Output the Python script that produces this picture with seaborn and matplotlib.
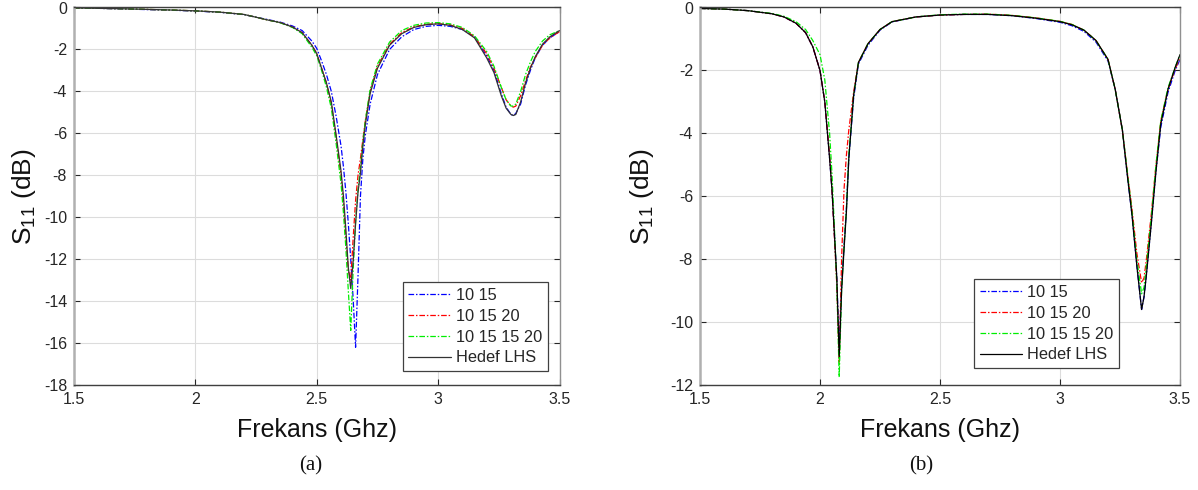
import matplotlib
matplotlib.use("Agg")
import matplotlib.pyplot as plt
import seaborn as sns

# ---------------- data: panel (a) ----------------
freq_a = [1.5, 1.6, 1.7, 1.8, 1.9, 2.0, 2.1, 2.2, 2.3, 2.35, 2.4, 2.44, 2.48, 2.5, 2.52,
          2.54, 2.56, 2.58, 2.6, 2.61, 2.62, 2.63, 2.64, 2.65, 2.66, 2.67, 2.68, 2.69, 2.7,
          2.72, 2.75, 2.8, 2.85, 2.9, 2.95, 3.0, 3.05, 3.1, 3.15, 3.2, 3.23, 3.26, 3.28,
          3.3, 3.31, 3.32, 3.34, 3.36, 3.38, 3.4, 3.43, 3.46, 3.5]
a_10_15 = [-0.02, -0.04, -0.07, -0.10, -0.13, -0.17, -0.23, -0.34, -0.58, -0.70, -0.88, -1.10,
           -1.60, -1.95, -2.55, -3.2, -4.0, -5.2, -6.6, -7.6, -8.8, -10.3, -12.0, -13.9, -16.2,
           -12.8, -9.0, -7.2, -6.1, -4.6, -3.2, -2.0, -1.4, -1.05, -0.9, -0.85, -0.9, -1.05,
           -1.4, -2.3, -3.0, -4.1, -4.75, -5.1, -5.15, -5.05, -4.6, -3.7, -3.0, -2.4, -1.8,
           -1.45, -1.15]
a_10_15_20 = [-0.02, -0.04, -0.06, -0.09, -0.12, -0.16, -0.22, -0.33, -0.6, -0.72, -0.93, -1.2,
              -1.8, -2.2, -2.9, -3.6, -4.6, -6.2, -8.0, -9.3, -11.0, -12.5, -13.0, -11.0, -9.2,
              -8.0, -7.2, -6.3, -5.4, -4.0, -2.8, -1.75, -1.2, -0.92, -0.8, -0.77, -0.83, -1.0,
              -1.4, -2.2, -2.9, -3.8, -4.4, -4.7, -4.75, -4.7, -4.2, -3.5, -2.85, -2.4, -1.8,
              -1.45, -1.15]
a_10_15_15_20 = [-0.02, -0.04, -0.06, -0.09, -0.12, -0.16, -0.22, -0.33, -0.6, -0.73, -0.95, -1.25,
                 -1.9, -2.3, -3.0, -3.8, -4.8, -6.5, -8.4, -9.8, -11.5, -13.5, -15.4, -12.5, -10.2,
                 -8.7, -7.6, -6.4, -5.4, -3.9, -2.7, -1.65, -1.1, -0.85, -0.74, -0.72, -0.78,
                 -0.95, -1.35, -2.1, -2.8, -3.8, -4.4, -4.7, -4.7, -4.6, -4.0, -3.2, -2.6, -2.1,
                 -1.6, -1.3, -1.1]
a_hedef = [-0.02, -0.04, -0.06, -0.09, -0.12, -0.16, -0.22, -0.33, -0.6, -0.72, -0.93, -1.2,
           -1.8, -2.2, -2.9, -3.6, -4.5, -6.1, -7.8, -9.0, -10.6, -12.4, -13.4, -12.1, -10.3,
           -8.8, -7.9, -6.6, -5.6, -4.1, -2.9, -1.8, -1.25, -0.95, -0.82, -0.78, -0.85, -1.05,
           -1.45, -2.4, -3.1, -4.2, -4.8, -5.1, -5.15, -5.1, -4.5, -3.6, -2.9, -2.35, -1.75,
           -1.4, -1.1]

# ---------------- data: panel (b) ----------------
freq_b = [1.5, 1.6, 1.7, 1.8, 1.85, 1.9, 1.94, 1.97, 2.0, 2.02, 2.04, 2.05, 2.06, 2.07, 2.08,
          2.09, 2.1, 2.11, 2.12, 2.14, 2.16, 2.2, 2.25, 2.3, 2.4, 2.5, 2.6, 2.7, 2.8, 2.9, 3.0,
          3.05, 3.1, 3.15, 3.2, 3.23, 3.26, 3.28, 3.3, 3.32, 3.34, 3.35, 3.36, 3.38, 3.4, 3.42,
          3.45, 3.48, 3.5]
b_10_15 = [-0.03, -0.05, -0.1, -0.2, -0.3, -0.5, -0.8, -1.25, -2.0, -3.0, -4.8, -5.8, -7.2,
           -8.6, -10.8, -8.8, -7.6, -6.4, -4.8, -2.9, -1.8, -1.2, -0.72, -0.46, -0.3, -0.24,
           -0.22, -0.22, -0.26, -0.35, -0.47, -0.58, -0.76, -1.1, -1.7, -2.6, -3.9, -5.3, -6.6,
           -8.2, -9.6, -9.2, -8.5, -6.9, -5.2, -3.8, -2.7, -2.0, -1.65]
b_10_15_20 = [-0.03, -0.05, -0.1, -0.2, -0.3, -0.5, -0.8, -1.25, -2.0, -3.0, -4.7, -5.8, -7.3,
              -8.8, -11.3, -8.0, -5.8, -4.7, -3.9, -2.7, -1.75, -1.15, -0.7, -0.45, -0.3, -0.24,
              -0.22, -0.21, -0.25, -0.33, -0.44, -0.54, -0.72, -1.05, -1.65, -2.6, -3.9, -5.2,
              -6.4, -7.8, -8.75, -8.6, -8.0, -6.6, -5.0, -3.6, -2.6, -1.95, -1.6]
b_10_15_15_20 = [-0.03, -0.05, -0.1, -0.19, -0.28, -0.45, -0.7, -1.05, -1.5, -2.3, -4.0, -5.3,
                 -7.0, -8.8, -11.75, -9.0, -7.6, -6.4, -4.7, -2.8, -1.75, -1.15, -0.7, -0.45, -0.3,
                 -0.23, -0.21, -0.21, -0.25, -0.33, -0.44, -0.54, -0.72, -1.05, -1.65, -2.6,
                 -3.9, -5.2, -6.5, -8.0, -9.1, -8.9, -8.2, -6.7, -5.0, -3.6, -2.55, -1.9, -1.5]
b_hedef = [-0.03, -0.05, -0.1, -0.2, -0.3, -0.5, -0.8, -1.25, -2.0, -3.0, -4.8, -5.8, -7.2,
           -8.6, -11.1, -9.0, -7.7, -6.5, -4.8, -2.8, -1.75, -1.15, -0.7, -0.45, -0.3, -0.24,
           -0.22, -0.22, -0.26, -0.34, -0.45, -0.55, -0.72, -1.05, -1.65, -2.6, -3.9, -5.3,
           -6.6, -8.2, -9.6, -9.2, -8.5, -6.9, -5.2, -3.7, -2.6, -1.9, -1.5]

labels = ["10 15", "10 15 20", "10 15 15 20", "Hedef LHS"]
xticks = [1.5, 2, 2.5, 3, 3.5]
xtick_labels = ["1.5", "2", "2.5", "3", "3.5"]
yticks_a = [0, -2, -4, -6, -8, -10, -12, -14, -16, -18]
yticks_b = [0, -2, -4, -6, -8, -10, -12]

# ---------------- styling ----------------
sns.set_theme(style="white")
plt.rcParams["font.family"] = ["Liberation Sans", "DejaVu Sans"]
plt.rcParams["mathtext.default"] = "regular"

fig = plt.figure(figsize=(11.98, 4.90), dpi=100)
ax_a = fig.add_axes([74 / 1198, 105 / 490, 485.5 / 1198, 377.5 / 490])
ax_b = fig.add_axes([700 / 1198, 105 / 490, 480 / 1198, 377.5 / 490])

dashdot = (0, (4.5, 1.5, 1.2, 1.5))
colors = ["#0000ff", "#ff0000", "#00ee00"]


def draw(ax, freq, series, yticks, ylim, hedef_color, legend_anchor, ylabelpad):
    for i, (vals, lab) in enumerate(zip(series, labels)):
        if i < 3:
            sns.lineplot(x=freq, y=vals, ax=ax, color=colors[i], linestyle=dashdot,
                         linewidth=0.9, label=lab, sort=False, estimator=None)
        else:
            sns.lineplot(x=freq, y=vals, ax=ax, color=hedef_color, linestyle="-",
                         linewidth=0.9, label=lab, sort=False, estimator=None)
    ax.set_xlim(1.5, 3.5)
    ax.set_ylim(*ylim)
    ax.set_xticks(xticks)
    ax.set_xticklabels(xtick_labels)
    ax.set_yticks(yticks)
    ax.set_yticklabels([str(t) for t in yticks])
    ax.grid(True, color="#dcdcdc", linewidth=0.8)
    ax.set_axisbelow(True)
    ax.tick_params(axis="both", which="major", direction="in", length=4, width=0.8,
                   labelsize=11.5, colors="#262626", top=True, right=True,
                   bottom=True, left=True, pad=5)
    for name, sp in ax.spines.items():
        sp.set_visible(True)
        sp.set_linewidth(1.0)
        sp.set_color("#404040")
    ax.spines["left"].set_color("#b0b0b0")
    ax.spines["left"].set_linewidth(1.8)
    ax.spines["right"].set_color("#909090")
    ax.set_xlabel("Frekans (Ghz)", fontsize=18, color="#111111", labelpad=8)
    ax.set_ylabel("S$_{11}$ (dB)", fontsize=19, color="#111111", labelpad=ylabelpad)
    leg = ax.legend(loc="lower right", bbox_to_anchor=legend_anchor, fontsize=11.8,
                    frameon=True, fancybox=False, framealpha=1, edgecolor="#404040",
                    handlelength=2.6, handletextpad=0.3, labelspacing=0.35,
                    borderpad=0.35, borderaxespad=0.0)
    leg.get_frame().set_linewidth(0.9)


draw(ax_a, freq_a, [a_10_15, a_10_15_20, a_10_15_15_20, a_hedef], yticks_a, (-18, 0),
     "#333333", (0.976, 0.037), 4)
draw(ax_b, freq_b, [b_10_15, b_10_15_20, b_10_15_15_20, b_hedef], yticks_b, (-12, 0),
     "#000000", (0.873, 0.045), 10)

fig.text(311 / 1198, 1 - 466 / 490, "(a)", fontsize=15, family=["Liberation Serif"],
         ha="center", va="center", color="#111111")
fig.text(921 / 1198, 1 - 466 / 490, "(b)", fontsize=15, family=["Liberation Serif"],
         ha="center", va="center", color="#111111")

fig.savefig("out.png", dpi=100)
